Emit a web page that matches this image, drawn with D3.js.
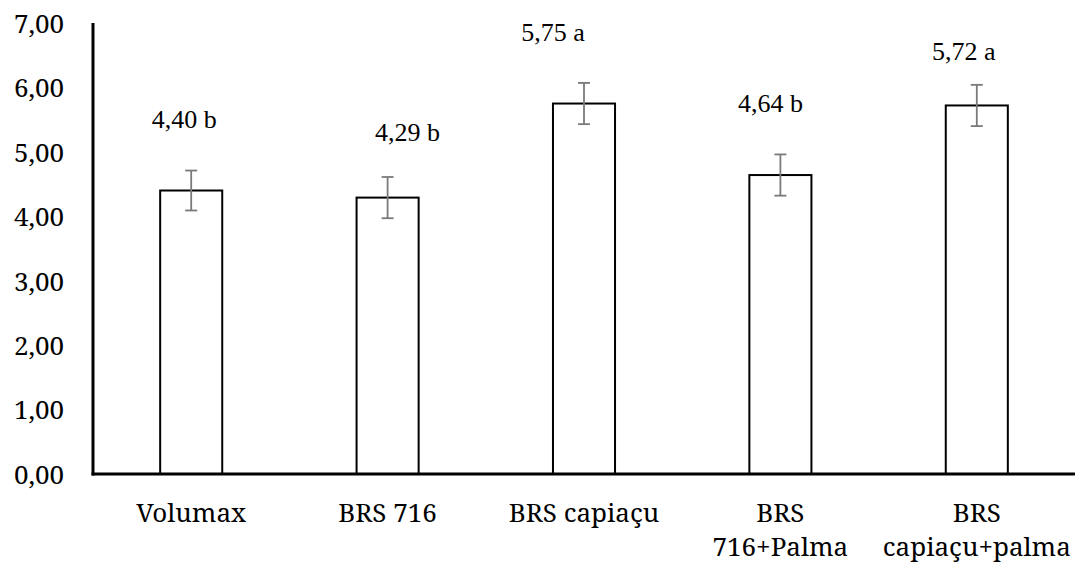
<!DOCTYPE html>
<html><head><meta charset="utf-8">
<script src="https://cdn.jsdelivr.net/npm/d3@7/dist/d3.min.js"></script>
<style>body{margin:0;background:#fff}svg{display:block}</style>
</head><body>
<svg id="c" width="1081" height="568"></svg>
<script>
// ---- data ----
const categories = ["Volumax", "BRS 716", "BRS capiaçu", "BRS 716+Palma", "BRS capiaçu+palma"];
const means = [4.40, 4.29, 5.75, 4.64, 5.72];
const errors = [0.31, 0.32, 0.32, 0.32, 0.32];
const letters = ["b", "b", "a", "b", "a"];
const yTicks = [0, 1, 2, 3, 4, 5, 6, 7];

// ---- layout (label placement as in the original figure) ----
const labelDx = [-7, 20, -31, -10, -13];
const labelDy = [-43, -36, -42, -42, -25];
const axisFont = '"Noto Serif"';
const valueFont = '"Liberation Serif"';

const fmt = v => v.toFixed(2).replace(".", ",");
const svg = d3.select("#c");
const m = {left: 93, right: 1075, top: 23, bottom: 474};

const x = d3.scaleBand().domain(categories).range([m.left, m.right])
  .paddingInner(0.684).paddingOuter(0.342);
const y = d3.scaleLinear().domain([0, 7]).range([m.bottom, m.top]);

// bars
svg.selectAll("rect.bar").data(categories).join("rect")
  .attr("x", d => x(d)).attr("width", x.bandwidth())
  .attr("y", (d, i) => y(means[i])).attr("height", (d, i) => y(0) - y(means[i]))
  .attr("fill", "#fff").attr("stroke", "#000").attr("stroke-width", 2);

// error bars
const eb = svg.append("g").attr("stroke", "#7a7a7a").attr("stroke-width", 1.8);
categories.forEach((c, i) => {
  const cx = x(c) + x.bandwidth() / 2;
  const hi = y(means[i] + errors[i]), lo = y(means[i] - errors[i]);
  eb.append("line").attr("x1", cx).attr("x2", cx).attr("y1", hi).attr("y2", lo);
  eb.append("line").attr("x1", cx - 6).attr("x2", cx + 6).attr("y1", hi).attr("y2", hi);
  eb.append("line").attr("x1", cx - 6).attr("x2", cx + 6).attr("y1", lo).attr("y2", lo);
});

// value labels
const vl = svg.append("g");
categories.forEach((c, i) => {
  vl.append("text")
    .attr("x", x(c) + x.bandwidth() / 2 + labelDx[i])
    .attr("y", y(means[i] + errors[i]) + labelDy[i])
    .attr("text-anchor", "middle").attr("fill", "#000")
    .style("font-family", valueFont).style("font-size", "26px")
    .text(fmt(means[i]) + " " + letters[i]);
});

// y axis
const yAxis = d3.axisLeft(y).tickValues(yTicks).tickFormat(fmt).tickSize(0).tickPadding(29);
const gy = svg.append("g").attr("transform", `translate(${m.left},0)`).call(yAxis);
gy.select(".domain").remove();
gy.selectAll("text").style("font-family", axisFont).style("font-size", "26px")
  .attr("fill", "#000").attr("dy", "0.36em");

// x axis
const xAxis = d3.axisBottom(x).tickSize(0).tickFormat("");
const gx = svg.append("g").attr("transform", `translate(0,${m.bottom})`).call(xAxis);
gx.select(".domain").remove();

// category labels (wrap long ones at first space)
const cl = svg.append("g").attr("fill", "#000").attr("text-anchor", "middle");
categories.forEach(c => {
  const cx = x(c) + x.bandwidth() / 2;
  const t = cl.append("text").attr("x", cx).attr("y", 522)
    .style("font-family", axisFont).style("font-size", "26px").text(c);
  if (t.node().getComputedTextLength() > 175) {
    const k = c.indexOf(" ");
    t.text(null);
    t.append("tspan").attr("x", cx).attr("y", 522).text(c.slice(0, k));
    t.append("tspan").attr("x", cx).attr("y", 556).text(c.slice(k + 1));
  }
});

// axis lines
svg.append("line").attr("x1", m.left).attr("x2", m.left).attr("y1", m.top).attr("y2", m.bottom + 1.5)
  .attr("stroke", "#000").attr("stroke-width", 3);
svg.append("line").attr("x1", m.left - 1.5).attr("x2", m.right).attr("y1", m.bottom).attr("y2", m.bottom)
  .attr("stroke", "#000").attr("stroke-width", 3);
</script>
</body></html>
